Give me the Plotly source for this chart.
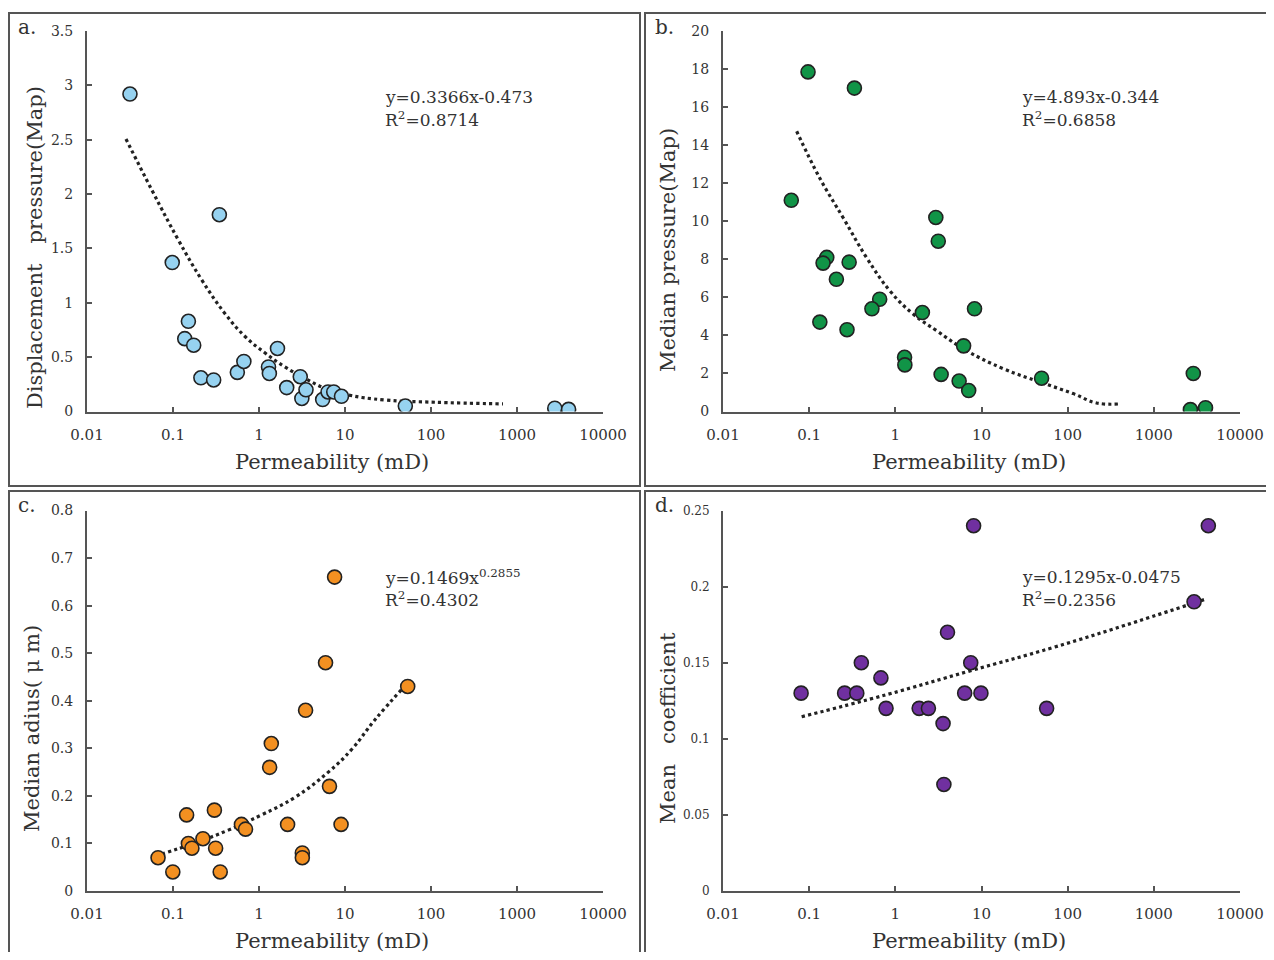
import plotly.graph_objects as go

# page body has an 8px margin; figure is sized so the page fits the 1274x960 window
OFF = 8
W, H = 1274 - OFF, 960 - 2 * OFF

# ---------------- data ----------------
a_perm = [0.0316, 0.098, 0.346, 0.151, 0.137, 0.174, 0.211, 0.297, 0.56, 0.667, 1.29, 1.32,
          1.64, 2.1, 3.02, 3.15, 3.52, 5.5, 6.35, 7.4, 9.1, 50.3, 2750, 3980]
a_disp = [2.92, 1.37, 1.81, 0.83, 0.67, 0.61, 0.31, 0.29, 0.36, 0.46, 0.41, 0.35,
          0.58, 0.22, 0.32, 0.12, 0.20, 0.11, 0.18, 0.18, 0.14, 0.05, 0.03, 0.02]
a_trend_x = [0.0284, 0.0565, 0.115, 0.216, 0.403, 0.687, 1.17, 2.0, 3.43, 5.85, 10.9, 29, 111, 687]
a_trend_y = [2.506, 2.04, 1.58, 1.21, 0.90, 0.69, 0.54, 0.41, 0.305, 0.213, 0.152, 0.106, 0.085, 0.07]

b_perm = [0.097, 0.335, 0.062, 2.95, 3.15, 0.16, 0.145, 0.291, 0.207, 0.658, 0.535, 2.06, 8.3,
          0.133, 0.275, 6.2, 1.28, 1.29, 3.4, 5.5, 7.1, 49.8, 2870, 2660, 3980]
b_med = [17.85, 17.0, 11.1, 10.2, 8.95, 8.1, 7.8, 7.85, 6.95, 5.9, 5.4, 5.2, 5.4,
         4.7, 4.3, 3.45, 2.85, 2.45, 1.95, 1.6, 1.1, 1.75, 2.0, 0.1, 0.2]
b_trend_x = [0.0716, 0.133, 0.249, 0.465, 0.865, 1.61, 3.01, 6.7, 17.9, 47.6, 116, 216, 403]
b_trend_y = [14.73, 12.26, 10.17, 8.08, 6.34, 5.12, 4.25, 3.2, 2.25, 1.55, 0.94, 0.45, 0.40]

c_perm = [0.067, 0.0995, 0.144, 0.151, 0.166, 0.223, 0.303, 0.313, 0.354, 0.625, 0.697, 1.33,
          1.39, 2.15, 3.19, 3.19, 3.48, 5.94, 6.6, 7.57, 9.0, 53.6]
c_rad = [0.07, 0.04, 0.16, 0.10, 0.09, 0.11, 0.17, 0.09, 0.04, 0.14, 0.13, 0.26,
         0.31, 0.14, 0.08, 0.07, 0.38, 0.48, 0.22, 0.66, 0.14, 0.43]
c_trend_x = [0.0738, 0.18, 0.44, 1.07, 2.62, 6.4, 12, 22.3, 49]
c_trend_y = [0.0776, 0.101, 0.128, 0.16, 0.197, 0.25, 0.298, 0.36, 0.43]

d_perm = [0.0806, 0.258, 0.357, 0.403, 0.68, 0.78, 1.89, 2.42, 3.58, 3.66, 4.03, 6.38, 7.5,
          9.85, 8.1, 57, 2930, 4290]
d_coef = [0.13, 0.13, 0.13, 0.15, 0.14, 0.12, 0.12, 0.12, 0.11, 0.07, 0.17, 0.13, 0.15,
          0.13, 0.24, 0.12, 0.19, 0.24]
d_trend_x = [0.0818, 0.79, 7.33, 68, 630, 3900]
d_trend_y = [0.1145, 0.129, 0.1446, 0.16, 0.177, 0.1916]

x_tickvals = [0.01, 0.1, 1, 10, 100, 1000, 10000]
x_ticktext = ["0.01", "0.1", "1", "10", "100", "1000", "10000"]

a_yticks = [0, 0.5, 1, 1.5, 2, 2.5, 3, 3.5]
a_ytext = ["0", "0.5", "1", "1.5", "2", "2.5", "3", "3.5"]
b_yticks = [0, 2, 4, 6, 8, 10, 12, 14, 16, 18, 20]
b_ytext = [str(v) for v in b_yticks]
c_yticks = [0, 0.1, 0.2, 0.3, 0.4, 0.5, 0.6, 0.7, 0.8]
c_ytext = ["0", "0.1", "0.2", "0.3", "0.4", "0.5", "0.6", "0.7", "0.8"]
d_yticks = [0, 0.05, 0.1, 0.15, 0.2, 0.25]
d_ytext = ["0", "0.05", "0.1", "0.15", "0.2", "0.25"]

FONT = "DejaVu Serif"
TXT = "#333333"
AX = "#555555"

def fx(px):
    return (px - OFF) / W

def fy(py):
    return 1 - (py - OFF) / H

panels = [
    ("a", a_perm, a_disp, a_trend_x, a_trend_y, "#96d2f0", [0, 3.5], a_yticks, a_ytext, (87, 603), (31, 411.5), 14),
    ("b", b_perm, b_med, b_trend_x, b_trend_y, "#119447", [0, 20], b_yticks, b_ytext, (723, 1240), (31, 411.5), 14),
    ("c", c_perm, c_rad, c_trend_x, c_trend_y, "#f39021", [0, 0.8], c_yticks, c_ytext, (87, 603), (510.5, 891), 14),
    ("d", d_perm, d_coef, d_trend_x, d_trend_y, "#7030a0", [0, 0.25], d_yticks, d_ytext, (723, 1240), (510.5, 891), 12),
]

fig = go.Figure()
layout = {}
for i, (key, xs, ys, tx, ty, col, yr, yt, ytt, xd, yd, yfs) in enumerate(panels):
    n = "" if i == 0 else str(i + 1)
    xa, ya = "x" + n, "y" + n
    fig.add_trace(go.Scatter(x=tx, y=ty, xaxis=xa, yaxis=ya, mode="lines",
                             line=dict(color="#222222", width=3.2, dash="dot", shape="spline", smoothing=1.2),
                             showlegend=False, hoverinfo="skip"))
    fig.add_trace(go.Scatter(x=xs, y=ys, xaxis=xa, yaxis=ya, mode="markers",
                             marker=dict(size=14, color=col, line=dict(color="#222222", width=1.6)),
                             showlegend=False))
    layout["xaxis" + n] = dict(
        type="log", range=[-2, 4], domain=[fx(xd[0]), fx(xd[1])], anchor=ya, automargin=False,
        tickvals=x_tickvals, ticktext=x_ticktext, ticks="inside", ticklen=5, tickwidth=1.5,
        tickcolor=AX, showline=True, linecolor=AX, linewidth=2, showgrid=False, zeroline=False,
        tickfont=dict(family=FONT, size=15, color=TXT), ticklabelstandoff=8,
    )
    layout["yaxis" + n] = dict(
        range=yr, domain=[fy(yd[1]), fy(yd[0])], anchor=xa, automargin=False,
        tickvals=yt, ticktext=ytt, ticks="inside", ticklen=5, tickwidth=1.5,
        tickcolor=AX, showline=True, linecolor=AX, linewidth=2, showgrid=False, zeroline=False,
        tickfont=dict(family=FONT, size=yfs, color=TXT), ticklabelstandoff=9,
    )

annotations = []
def ann(text, px, py, size, xanchor="center", yanchor="middle", angle=0):
    annotations.append(dict(text=text, x=fx(px), y=fy(py), xref="paper", yref="paper",
                            showarrow=False, xanchor=xanchor, yanchor=yanchor, textangle=angle,
                            font=dict(family=FONT, size=size, color=TXT)))

# panel labels
ann("a.", 16, 27, 20, xanchor="left")
ann("b.", 653, 27, 20, xanchor="left")
ann("c.", 16, 505, 20, xanchor="left")
ann("d.", 653, 505, 20, xanchor="left")

# x titles
for cx, cy in [(332, 462), (969, 462), (332, 941), (969, 941)]:
    ann("Permeability (mD)", cx, cy, 21)

# y titles
ann("Displacement   pressure(Map)", 35, 248, 21, angle=-90)
ann("Median pressure(Map)", 668, 250, 21, angle=-90)
ann("Median adius( μ m)", 32, 729, 21, angle=-90)
ann("Mean   coefficient", 668, 728, 21, angle=-90)

# equations
ann("y=0.3366x-0.473", 383, 97, 17, xanchor="left")
ann("R<sup>2</sup>=0.8714", 383, 119, 17, xanchor="left")
ann("y=4.893x-0.344", 1020, 97, 17, xanchor="left")
ann("R<sup>2</sup>=0.6858", 1020, 119, 17, xanchor="left")
ann("y=0.1469x<sup>0.2855</sup>", 383, 577, 17, xanchor="left")
ann("R<sup>2</sup>=0.4302", 383, 599, 17, xanchor="left")
ann("y=0.1295x-0.0475", 1020, 577, 17, xanchor="left")
ann("R<sup>2</sup>=0.2356", 1020, 599, 17, xanchor="left")

shapes = []
for (x0, y0, x1, y1) in [(9, 13, 640, 486), (645, 13, 1272, 486), (9, 491, 640, 970), (645, 491, 1272, 970)]:
    shapes.append(dict(type="rect", xref="paper", yref="paper",
                       x0=fx(x0), x1=fx(x1), y0=fy(y1), y1=fy(y0),
                       line=dict(color="#555555", width=2), fillcolor="rgba(0,0,0,0)"))

fig.update_layout(
    width=W, height=H, margin=dict(l=0, r=0, t=0, b=0, pad=0, autoexpand=False),
    paper_bgcolor="white", plot_bgcolor="white",
    annotations=annotations, shapes=shapes, showlegend=False,
    **layout,
)

fig.write_html("out.html")
